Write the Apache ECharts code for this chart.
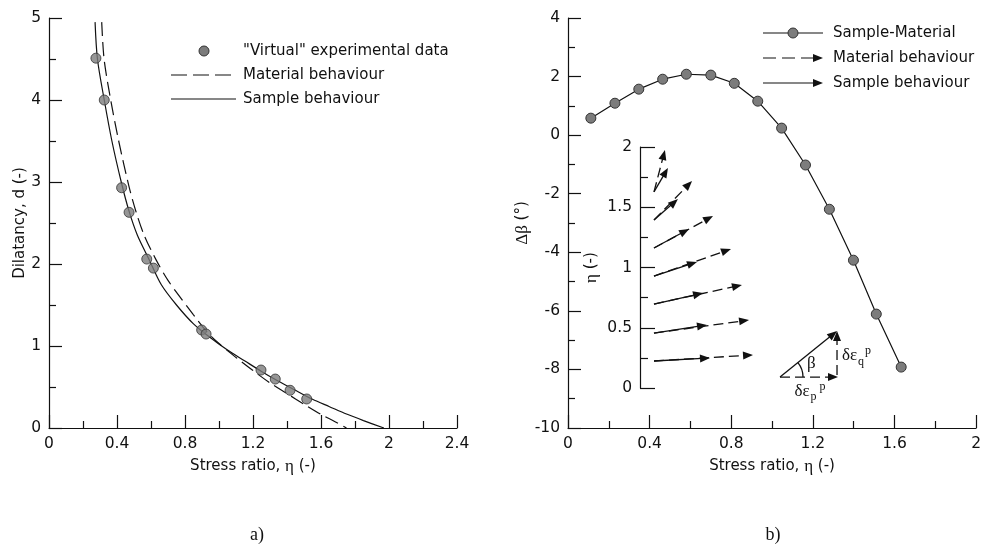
<!DOCTYPE html>
<html>

<head>
    <meta charset="utf-8">
    <title>Dilatancy / Delta beta</title>
    <style>
        html, body { margin: 0; padding: 0; background: #fff; }
        #chartBox { width: 984px; height: 550px; }
    </style>
</head>

<body>
    <div id="chartBox"></div>

    <script src="https://cdn.jsdelivr.net/npm/echarts@6/dist/echarts.min.js"></script>

    <script>
        // a) "virtual" experimental points
        var expEta = [0.276, 0.325, 0.427, 0.471, 0.575, 0.614, 0.898, 0.924, 1.247, 1.331, 1.418, 1.516];
        var expD = [4.51, 4.00, 2.93, 2.63, 2.06, 1.95, 1.195, 1.146, 0.707, 0.597, 0.46, 0.354];

        // a) sample behaviour (solid curve)
        var sampleEta = [0.271, 0.285, 0.325, 0.37, 0.425, 0.47, 0.52, 0.59, 0.66, 0.75, 0.85, 0.95, 1.05, 1.15, 1.25, 1.35, 1.45, 1.55, 1.65, 1.75, 1.85, 1.97];
        var sampleD = [4.95, 4.50, 4.00, 3.50, 3.00, 2.65, 2.35, 2.05, 1.75, 1.50, 1.27, 1.10, 0.95, 0.82, 0.69, 0.57, 0.46, 0.35, 0.26, 0.17, 0.09, 0];

        // a) material behaviour (dashed curve)
        var materialEta = [0.31, 0.324, 0.363, 0.41, 0.47, 0.51, 0.56, 0.63, 0.70, 0.77, 0.85, 0.93, 1.0, 1.1, 1.2, 1.3, 1.4, 1.5, 1.6, 1.68, 1.75];
        var materialD = [4.95, 4.50, 4.00, 3.50, 2.95, 2.65, 2.35, 2.05, 1.80, 1.60, 1.38, 1.17, 1.03, 0.86, 0.70, 0.55, 0.42, 0.29, 0.165, 0.08, 0];

        // b) sample - material
        var diffEta = [0.112, 0.23, 0.347, 0.464, 0.58, 0.70, 0.815, 0.93, 1.047, 1.164, 1.281, 1.399, 1.511, 1.633];
        var diffBeta = [0.58, 1.09, 1.57, 1.91, 2.08, 2.05, 1.77, 1.16, 0.24, -1.02, -2.53, -4.27, -6.11, -7.92];

        // b) inset: flow directions (x in same units as eta, hidden axis)
        var insetStartX = 0.116;
        var insetEta = [0.224, 0.456, 0.697, 0.929, 1.162, 1.394, 1.627];
        var sampleEndX = [0.581, 0.556, 0.523, 0.473, 0.407, 0.315, 0.232];
        var sampleEndEta = [0.249, 0.523, 0.788, 1.046, 1.320, 1.568, 1.826];
        var materialEndX = [0.938, 0.905, 0.846, 0.755, 0.606, 0.432, 0.207];
        var materialEndEta = [0.274, 0.564, 0.855, 1.154, 1.427, 1.718, 1.975];

        // b) sketch of beta definition (inset units)
        var sketchOrigin = [1.162, 0.091];
        var sketchTip = [1.635, 0.473];

        // tick labels
        var xTicksA = [0, 0.4, 0.8, 1.2, 1.6, 2, 2.4];
        var yTicksA = [0, 1, 2, 3, 4, 5];
        var xTicksB = [0, 0.4, 0.8, 1.2, 1.6, 2];
        var yTicksB = [-10, -8, -6, -4, -2, 0, 2, 4];
        var yTicksInset = [0, 0.5, 1, 1.5, 2];

        var ink = '#111';
        var sans = '"DejaVu Sans", sans-serif';
        var serif = '"Liberation Serif", serif';

        var zip = function(a, b) {
            return a.map(function(v, i) { return [v, b[i]]; });
        };

        var axisCommon = function(ticks, majorLen, minorLen) {
            return {
                min: ticks[0],
                max: ticks[ticks.length - 1],
                interval: ticks[1] - ticks[0],
                axisLine: { show: true, onZero: false, lineStyle: { color: ink, width: 1.2 } },
                axisTick: { show: true, inside: true, length: majorLen, lineStyle: { color: ink, width: 1.2 } },
                minorTick: { show: true, splitNumber: 2, length: minorLen, lineStyle: { color: ink, width: 1.2 } },
                splitLine: { show: false },
                axisLabel: { color: ink, fontFamily: sans, fontSize: 15.5, margin: 8 },
                nameTextStyle: { color: ink, fontFamily: sans, fontSize: 15 }
            };
        };

        var etaName = {
            name: '{s|Stress ratio, }{g|η}{s| (-)}',
            nameLocation: 'middle',
            nameGap: 30
        };
        var richName = {
            s: { fontFamily: sans, fontSize: 15, color: ink },
            g: { fontFamily: serif, fontSize: 17, color: ink }
        };

        var xA = Object.assign(axisCommon(xTicksA, 13, 7), etaName, { type: 'value', gridIndex: 0 });
        xA.nameTextStyle.rich = richName;
        xA.axisLabel.formatter = function(v) { return String(+v.toFixed(1)); };
        var xB = Object.assign(axisCommon(xTicksB, 13, 7), etaName, { type: 'value', gridIndex: 1 });
        xB.nameTextStyle.rich = richName;
        xB.axisLabel.formatter = function(v) { return String(+v.toFixed(1)); };
        var xInset = { type: 'value', gridIndex: 2, min: 0, max: 2, show: false };

        var yA = Object.assign(axisCommon(yTicksA, 13, 7), {
            type: 'value', gridIndex: 0, name: 'Dilatancy, d (-)', nameLocation: 'middle', nameGap: 20
        });
        var yB = Object.assign(axisCommon(yTicksB, 13, 7), {
            type: 'value', gridIndex: 1, name: '{g|Δβ}{s| (°)}', nameLocation: 'middle', nameGap: 34
        });
        yB.nameTextStyle.rich = richName;
        var yInset = Object.assign(axisCommon(yTicksInset, 15, 8), {
            type: 'value', gridIndex: 2, name: '{g|η}{s| (-)}', nameLocation: 'middle', nameGap: 40
        });
        yInset.nameTextStyle.rich = richName;
        yInset.axisLabel.formatter = function(v) { return String(v); };

        // arrow drawn with line + filled head
        var arrowParts = function(p0, p1, dashed) {
            var dx = p1[0] - p0[0], dy = p1[1] - p0[1];
            var len = Math.sqrt(dx * dx + dy * dy);
            var ux = dx / len, uy = dy / len;
            var hl = 10, hw = 4;
            var bx = p1[0] - ux * hl, by = p1[1] - uy * hl;
            return [{
                type: 'line',
                shape: { x1: p0[0], y1: p0[1], x2: bx + ux * 2, y2: by + uy * 2 },
                style: { stroke: ink, lineWidth: 1.3, lineDash: dashed ? [10, 5] : null, fill: null }
            }, {
                type: 'polygon',
                shape: { points: [[p1[0], p1[1]], [bx - uy * hw, by + ux * hw], [bx + uy * hw, by - ux * hw]] },
                style: { fill: ink }
            }];
        };

        var arrowRender = function(dashed) {
            return function(params, api) {
                var p0 = api.coord([api.value(0), api.value(1)]);
                var p1 = api.coord([api.value(2), api.value(3)]);
                return { type: 'group', children: arrowParts(p0, p1, dashed) };
            };
        };

        var sampleArrows = insetEta.map(function(e, i) { return [insetStartX, e, sampleEndX[i], sampleEndEta[i]]; });
        var materialArrows = insetEta.map(function(e, i) { return [insetStartX, e, materialEndX[i], materialEndEta[i]]; });

        var sketchRender = function(params, api) {
            var o = api.coord([api.value(0), api.value(1)]);
            var t = api.coord([api.value(2), api.value(3)]);
            var c = [t[0], o[1]];
            var kids = [].concat(
                arrowParts(o, t, false),
                arrowParts(o, [c[0] + 1, c[1]], true),
                arrowParts([c[0], c[1] - 2], [c[0], t[1]], true)
            );
            var ang = Math.atan2(o[1] - t[1], t[0] - o[0]);
            kids.push({
                type: 'arc',
                shape: { cx: o[0], cy: o[1], r: 23, startAngle: -ang, endAngle: 0, clockwise: true },
                style: { stroke: ink, lineWidth: 1.3, fill: null }
            });
            var txt = function(x, y, s, size) {
                return {
                    type: 'text', x: x, y: y,
                    style: { text: s, font: size + 'px ' + serif, fill: ink, align: 'left', verticalAlign: 'middle' }
                };
            };
            kids.push(txt(o[0] + 27, o[1] - 14, 'β', 17));
            var vx = c[0] + 5, vy = (o[1] + t[1]) / 2 + 2;
            kids.push(txt(vx, vy, 'δε', 17));
            kids.push(txt(vx + 16, vy + 6, 'q', 12));
            kids.push(txt(vx + 23, vy - 5, 'p', 12));
            var hx = (o[0] + c[0]) / 2 - 14, hy = o[1] + 14;
            kids.push(txt(hx, hy, 'δε', 17));
            kids.push(txt(hx + 16, hy + 6, 'p', 12));
            kids.push(txt(hx + 25, hy - 4, 'p', 12));
            return { type: 'group', children: kids };
        };

        var markerStyle = { color: '#7c7c7c', borderColor: '#333', borderWidth: 1 };
        var legendFont = '15px ' + sans;

        var legendText = function(x, y, s) {
            return { type: 'text', x: x, y: y, style: { text: s, font: legendFont, fill: ink, align: 'left', verticalAlign: 'middle' } };
        };
        var legendLine = function(x1, x2, y, dash) {
            return { type: 'line', shape: { x1: x1, y1: y, x2: x2, y2: y }, style: { stroke: ink, lineWidth: 1.2, lineDash: dash } };
        };
        var legendHead = function(x, y) {
            return { type: 'polygon', shape: { points: [[x, y], [x - 10, y - 4], [x - 10, y + 4]] }, style: { fill: ink } };
        };

        var graphics = [
            // legend a)
            { type: 'circle', shape: { cx: 204, cy: 51, r: 5 }, style: { fill: '#7c7c7c', stroke: '#333', lineWidth: 1 } },
            legendText(243, 51, '"Virtual" experimental data'),
            legendLine(171, 236, 75, [16, 6]),
            legendText(243, 75, 'Material behaviour'),
            legendLine(171, 236, 99, null),
            legendText(243, 99, 'Sample behaviour'),
            // legend b)
            legendLine(763, 823, 33, null),
            { type: 'circle', shape: { cx: 793, cy: 33, r: 5 }, style: { fill: '#7c7c7c', stroke: '#333', lineWidth: 1 } },
            legendText(833, 33, 'Sample-Material'),
            legendLine(763, 815, 58, [13, 6]),
            legendHead(823, 58),
            legendText(833, 58, 'Material behaviour'),
            legendLine(763, 815, 83, null),
            legendHead(823, 83),
            legendText(833, 83, 'Sample behaviour'),
            // panel captions
            { type: 'text', x: 257, y: 535, style: { text: 'a)', font: '18px ' + serif, fill: ink, align: 'center', verticalAlign: 'middle' } },
            { type: 'text', x: 773, y: 535, style: { text: 'b)', font: '18px ' + serif, fill: ink, align: 'center', verticalAlign: 'middle' } }
        ];

        var chart = echarts.init(document.getElementById('chartBox'));
        chart.setOption({
            animation: false,
            backgroundColor: '#fff',
            grid: [
                { left: 49, top: 18, width: 408, height: 410 },
                { left: 568, top: 18, width: 409, height: 410 },
                { left: 640, top: 147, width: 241, height: 241 }
            ],
            xAxis: [xA, xB, xInset],
            yAxis: [yA, yB, yInset],
            graphic: graphics,
            series: [{
                name: 'Material behaviour',
                type: 'line',
                xAxisIndex: 0, yAxisIndex: 0,
                data: zip(materialEta, materialD),
                smooth: 0.3,
                symbol: 'none',
                lineStyle: { color: ink, width: 1.2, type: [14, 6] },
                z: 2
            }, {
                name: 'Sample behaviour',
                type: 'line',
                xAxisIndex: 0, yAxisIndex: 0,
                data: zip(sampleEta, sampleD),
                smooth: 0.3,
                symbol: 'none',
                lineStyle: { color: ink, width: 1.2 },
                z: 2
            }, {
                name: '"Virtual" experimental data',
                type: 'scatter',
                xAxisIndex: 0, yAxisIndex: 0,
                data: zip(expEta, expD),
                symbolSize: 10,
                itemStyle: markerStyle,
                z: 3
            }, {
                name: 'Sample-Material',
                type: 'line',
                xAxisIndex: 1, yAxisIndex: 1,
                data: zip(diffEta, diffBeta),
                symbol: 'circle',
                symbolSize: 10,
                showAllSymbol: true,
                lineStyle: { color: ink, width: 1.2 },
                itemStyle: markerStyle,
                z: 3
            }, {
                name: 'Material arrows',
                type: 'custom',
                xAxisIndex: 2, yAxisIndex: 2,
                data: materialArrows,
                encode: { x: [0, 2], y: [1, 3] },
                renderItem: arrowRender(true),
                clip: false,
                z: 4
            }, {
                name: 'Sample arrows',
                type: 'custom',
                xAxisIndex: 2, yAxisIndex: 2,
                data: sampleArrows,
                encode: { x: [0, 2], y: [1, 3] },
                renderItem: arrowRender(false),
                clip: false,
                z: 5
            }, {
                name: 'Sketch',
                type: 'custom',
                xAxisIndex: 2, yAxisIndex: 2,
                data: [sketchOrigin.concat(sketchTip)],
                encode: { x: [0, 2], y: [1, 3] },
                renderItem: sketchRender,
                clip: false,
                z: 5
            }]
        });
    </script>

</body>

</html>
